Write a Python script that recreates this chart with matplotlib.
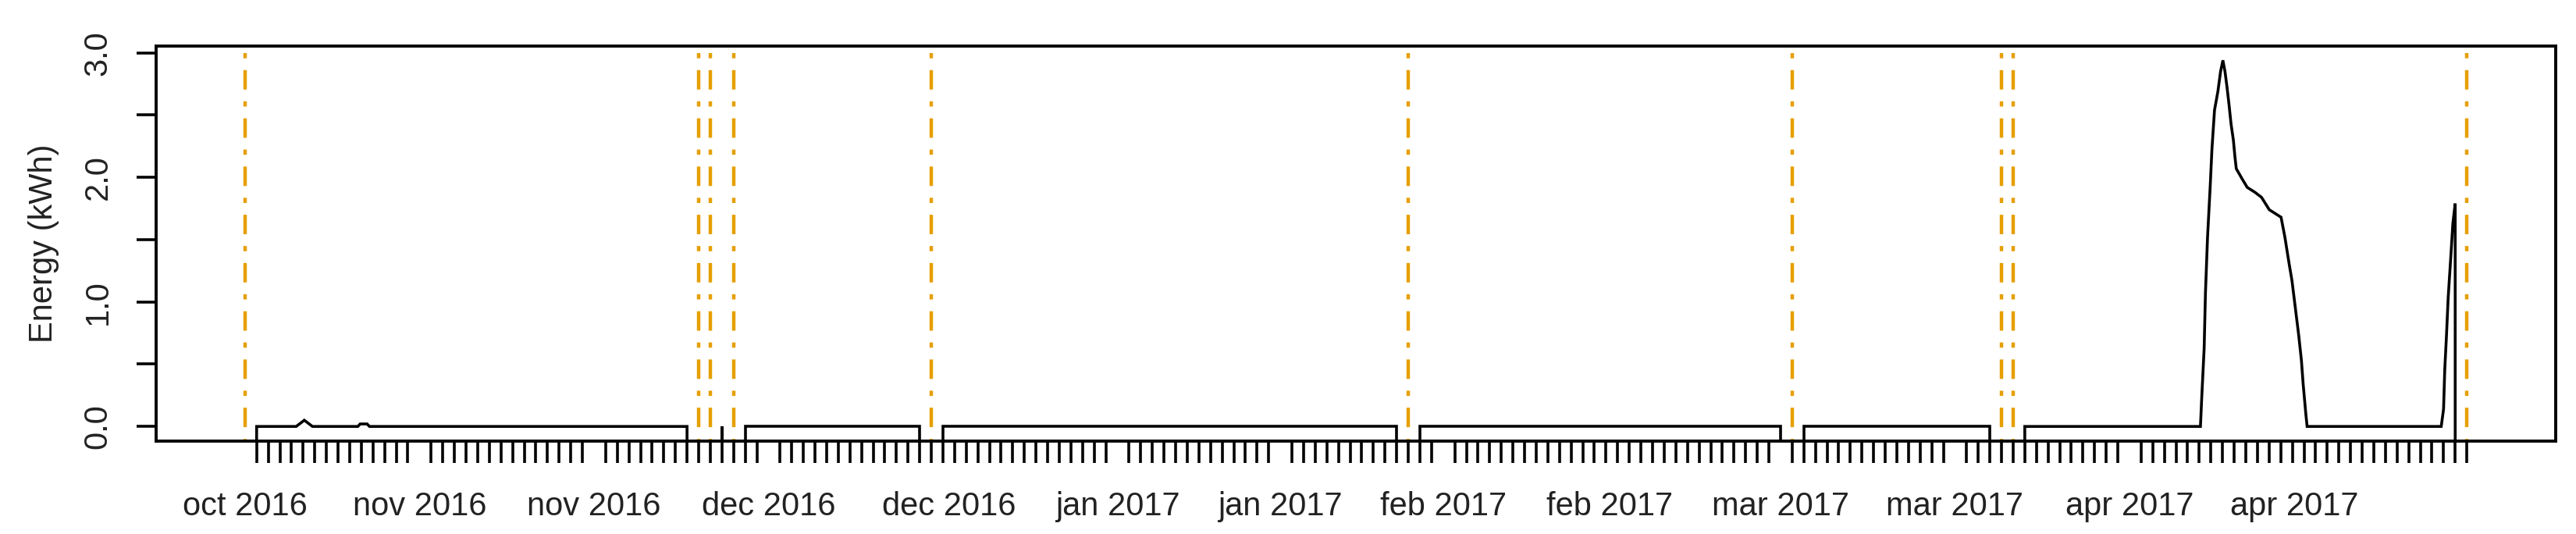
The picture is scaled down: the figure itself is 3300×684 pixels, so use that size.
import numpy as np
import matplotlib.pyplot as plt
from matplotlib.ticker import FixedLocator

plt.rcParams['font.family'] = ['Liberation Sans', 'DejaVu Sans']

# x values are days since the first day of the record (one tick per day)
gap_days = [0, 39, 40, 42, 59, 100, 133, 151, 152, 191]

seg1_days = [1, 4.4, 5.1, 5.8, 9.7, 9.9, 10.5, 10.7, 38]
seg1_kwh = [0, 0, 0.05, 0, 0, 0.02, 0.02, 0, 0]
seg2_days = [41]
seg2_kwh = [0]
seg3_days = [43, 58]
seg3_kwh = [0, 0]
seg4_days = [60, 99]
seg4_kwh = [0, 0]
seg5_days = [101, 132]
seg5_kwh = [0, 0]
seg6_days = [134, 150]
seg6_kwh = [0, 0]
seg7_days = [153, 168.1, 168.2, 168.42, 168.53, 168.71, 168.94, 169.09, 169.31,
             169.6, 169.83, 170.03, 170.21, 170.39, 170.55, 170.73, 170.93,
             171.06, 171.18, 171.67, 172.12, 172.79, 173.35, 174.02, 175.03,
             175.36, 175.7, 175.97, 176.26, 176.55, 176.78, 176.93, 177.16,
             177.27, 188.8, 189.0, 189.1, 189.25, 189.4, 189.6, 189.8, 190.0]
seg7_kwh = [0, 0, 0.21, 0.63, 1.07, 1.52, 1.93, 2.23, 2.54,
            2.69, 2.85, 2.94, 2.85, 2.72, 2.59, 2.43, 2.30,
            2.17, 2.07, 1.99, 1.92, 1.88, 1.84, 1.74, 1.68,
            1.52, 1.32, 1.17, 0.95, 0.73, 0.53, 0.34, 0.10,
            0, 0, 0.14, 0.45, 0.73, 1.04, 1.33, 1.63, 1.79]

segments = [(seg1_days, seg1_kwh), (seg2_days, seg2_kwh), (seg3_days, seg3_kwh),
            (seg4_days, seg4_kwh), (seg5_days, seg5_kwh), (seg6_days, seg6_kwh),
            (seg7_days, seg7_kwh)]

label_days = [0, 15, 30, 45, 60.5, 75, 89, 103, 117.3, 132, 147, 162, 176.2]
label_text = ['oct 2016', 'nov 2016', 'nov 2016', 'dec 2016', 'dec 2016',
              'jan 2017', 'jan 2017', 'feb 2017', 'feb 2017', 'mar 2017',
              'mar 2017', 'apr 2017', 'apr 2017']

y_ticks = [0, 0.5, 1, 1.5, 2, 2.5, 3]
y_labels = ['0.0', '', '1.0', '', '2.0', '', '3.0']

txt = '#222222'
fig = plt.figure(figsize=(33, 6.84), dpi=100)
ax = fig.add_axes([200/3300, 1 - 565/684, 3074/3300, (565 - 58.5)/684])

# R style 4% padding on both axes
x0, x1 = gap_days[0], gap_days[-1]
ymax = max(max(v) for d, v in segments)
ymin = 0
xpad = 0.04 * (x1 - x0)
ypad = 0.04 * (ymax - ymin)
ax.set_xlim(x0 - xpad, x1 + xpad)
ax.set_ylim(ymin - ypad, ymax + ypad)
bottom = ymin - ypad

# data, each piece dropping to the bottom edge where data is missing
for d, v in segments:
    xs = [d[0]] + list(d) + [d[-1]]
    ys = [bottom] + list(v) + [bottom]
    ax.plot(xs, ys, color='black', lw=2.6, solid_joinstyle='miter')

# missing days
ax.vlines(gap_days, 3.0, bottom, colors='#E69F00', lw=3.2,
          linestyles=[(0, (1.5, 3.4, 5.6, 3.4))])

for s in ax.spines.values():
    s.set_linewidth(2.8)
    s.set_color('black')

ax.xaxis.set_major_locator(FixedLocator(label_days))
ax.set_xticklabels(label_text)
ax.xaxis.set_minor_locator(FixedLocator(np.arange(x0, x1 + 1)))
ax.tick_params(axis='x', which='major', length=0, pad=46, labelsize=30,
               labelcolor=txt)
ax.tick_params(axis='x', which='minor', length=20, width=2.6, color='black')

ax.set_yticks(y_ticks)
ax.set_yticklabels(y_labels, rotation=90, va='center')
ax.tick_params(axis='y', length=18, width=2.6, pad=21, labelsize=30,
               labelcolor=txt)

ax.set_ylabel('Energy (kWh)', fontsize=30, color=txt)
ax.yaxis.set_label_coords(-0.0402, 0.5)

fig.savefig('out.png', dpi=100)
